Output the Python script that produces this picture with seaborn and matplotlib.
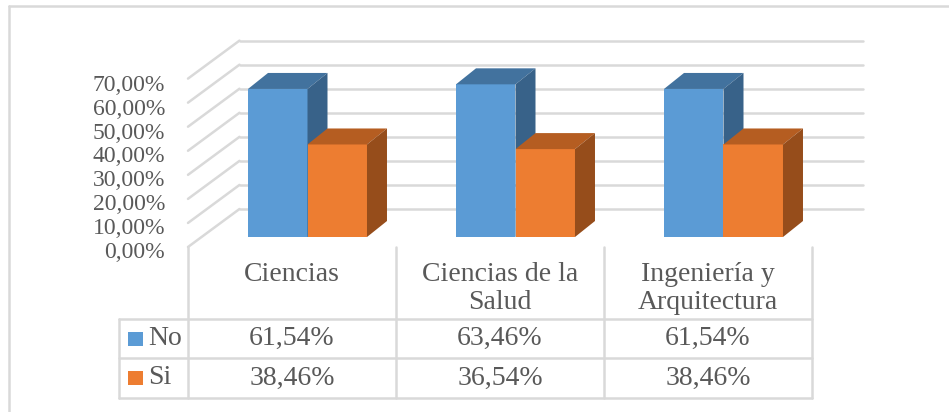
import numpy as np
import pandas as pd
import seaborn as sns
import matplotlib.pyplot as plt
from matplotlib.patches import Polygon, Rectangle
from matplotlib.lines import Line2D

# data
categorias = ["Ciencias", "Ciencias de la\nSalud", "Ingeniería y\nArquitectura"]
series = ["No", "Si"]
no_vals = [61.54, 63.46, 61.54]
si_vals = [38.46, 36.54, 38.46]
y_ticks = [0, 10, 20, 30, 40, 50, 60, 70]

front_cols = ["#5B9BD5", "#ED7D31"]
top_cols = ["#42729E", "#B55D21"]
side_cols = ["#386289", "#964D1B"]
grid_col = "#D9D9D9"
text_col = "#595959"

df = pd.DataFrame({
    "categoria": categorias * 2,
    "serie": ["No"] * 3 + ["Si"] * 3,
    "valor": no_vals + si_vals,
})

sns.set_style("white")
plt.rcParams['font.family'] = ['Liberation Serif', 'DejaVu Serif']

W, H = 949, 412
fig = plt.figure(figsize=(W / 100, H / 100), dpi=100)

# axes = plane where the bar fronts sit
ax = fig.add_axes([203.5 / W, (H - 237) / H, 624 / W, 168.4 / H])
sns.barplot(data=df, x="categoria", y="valor", hue="serie", palette=front_cols,
            width=0.572, saturation=1, linewidth=0, legend=False, ax=ax)
ax.set_xlim(-0.5, 2.5)
ax.set_ylim(0, 70)
ax.set_axis_off()

# pixel size of one data unit
p0 = ax.transData.transform((0, 0))
p1 = ax.transData.transform((1, 10))
ux = p1[0] - p0[0]
uy = (p1[1] - p0[1]) / 10

dd = (20 / ux, 16 / uy)          # bar depth
fo = (-15.5 / ux, -10 / uy)      # front plane
bo = (36 / ux, 28 / uy)          # back wall

# back wall grid + left wall diagonals
for v in y_ticks:
    ax.plot([-0.5 + bo[0], 2.5 + bo[0]], [v + bo[1], v + bo[1]],
            color=grid_col, lw=1.8, clip_on=False, zorder=0)
    ax.plot([-0.5 + fo[0], -0.5 + bo[0]], [v + fo[1], v + bo[1]],
            color=grid_col, lw=1.8, clip_on=False, zorder=0)
    lab = f"{v:.2f}".replace(".", ",") + "%"
    ax.text(-0.5 + fo[0] - 23 / ux, v * 0.988 + fo[1] - 5 / uy, lab, ha="right", va="center",
            fontsize=17, color=text_col, clip_on=False)

# 3d faces for the bars
for i, cont in enumerate(ax.containers):
    for bar in cont:
        bar.set_zorder(2 + i)
        x0 = bar.get_x()
        w = bar.get_width()
        h = bar.get_height()
        top = [(x0, h), (x0 + w, h), (x0 + w + dd[0], h + dd[1]), (x0 + dd[0], h + dd[1])]
        side = [(x0 + w, 0), (x0 + w, h), (x0 + w + dd[0], h + dd[1]), (x0 + w + dd[0], dd[1])]
        ax.add_patch(Polygon(top, closed=True, facecolor=top_cols[i], lw=0,
                             zorder=2.5 + i, clip_on=False))
        ax.add_patch(Polygon(side, closed=True, facecolor=side_cols[i], lw=0,
                             zorder=2.5 + i, clip_on=False))

# data table under the chart
tax = fig.add_axes([188 / W, (H - 398) / H, 624 / W, 151 / H])
tax.set_xlim(-0.5, 2.5)
tax.set_ylim(151, 0)
tax.set_axis_off()

leg_left = -0.5 - 69 / 208
for b in [-0.5, 0.5, 1.5, 2.5]:
    tax.plot([b, b], [0, 151], color=grid_col, lw=1.8, clip_on=False)
for yy in [72, 111, 151]:
    tax.plot([leg_left, 2.5], [yy, yy], color=grid_col, lw=1.8, clip_on=False)
tax.plot([leg_left, leg_left], [72, 151], color=grid_col, lw=1.8, clip_on=False)

for i, lab in enumerate(categorias):
    tax.text(i, 15, lab, ha="center", va="top", fontsize=20, color=text_col,
             linespacing=1.18)

rows = [(no_vals, 91.5), (si_vals, 131)]
for k, (vals, yc) in enumerate(rows):
    for i, v in enumerate(vals):
        tax.text(i, yc, f"{v:.2f}".replace(".", ",") + "%", ha="center", va="center",
                 fontsize=20, color=text_col)
    tax.add_patch(Rectangle((-0.5 - 60 / 208, yc - 7), 15 / 208, 14,
                            facecolor=front_cols[k], lw=0, clip_on=False))
    tax.text(-0.5 - 40 / 208, yc, series[k], ha="left", va="center",
             fontsize=20, color=text_col)

# chart border (left and top visible)
fig.add_artist(Line2D([9 / W, 9 / W], [1 - 6 / H, 0], color=grid_col, lw=1.8))
fig.add_artist(Line2D([9 / W, 1], [1 - 6 / H, 1 - 6 / H], color=grid_col, lw=1.8))

fig.savefig("out.png", dpi=100)
